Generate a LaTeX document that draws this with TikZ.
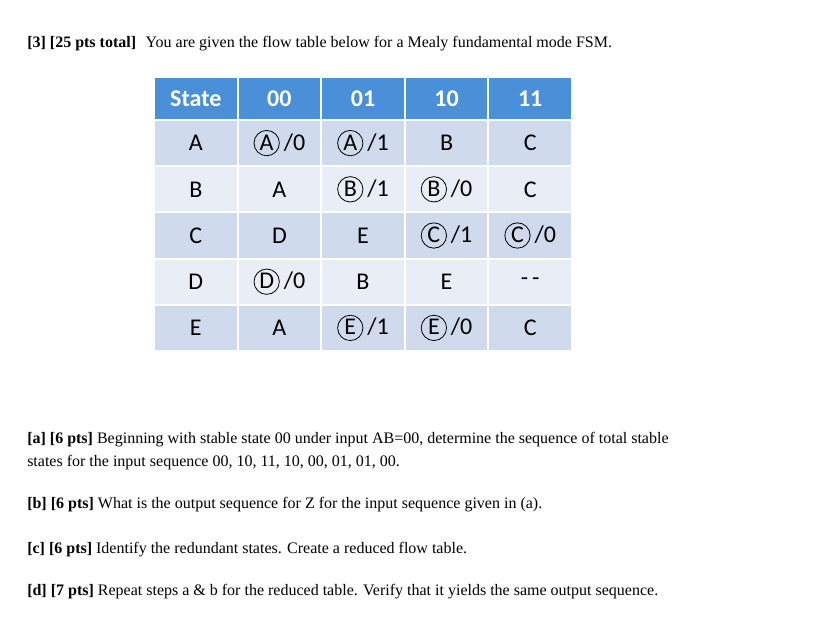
\documentclass[tikz,border=0pt]{standalone}
\usepackage{fontspec}
\setmainfont{Liberation Serif}
\newfontfamily\calfnt{Carlito}
\definecolor{hdr}{RGB}{74,144,217}
\definecolor{rowd}{RGB}{207,218,237}
\definecolor{rowl}{RGB}{232,237,246}
\begin{document}
\begin{tikzpicture}[x=0.75pt,y=-0.75pt,
  txt/.style={anchor=base west,inner sep=0,font=\fontsize{12}{14}\selectfont},
  cell/.style={inner sep=0,font=\calfnt\fontsize{18}{20}\selectfont},
  hcell/.style={inner sep=0,font=\calfnt\bfseries\fontsize{18}{20}\selectfont,text=white},
  ring/.style={draw,black,line width=0.6pt}]
\useasboundingbox (0,0) rectangle (821,629);
\fill[white] (0,0) rectangle (821,629);
\node[txt] (t) at (27,47) {\textbf{[3] [25 pts total]}\hspace{0.6em}You are given the flow table below for a Mealy fundamental mode FSM.};
% table
\foreach \c in {0,...,4}{
  \fill[hdr] ({155+83.6*\c},78) rectangle ({153+83.6*(\c+1)},119);
  \foreach \r/\col in {1/rowd,2/rowl,3/rowd,4/rowl,5/rowd}{
    \fill[\col] ({155+83.6*\c},{121+46.2*(\r-1)}) rectangle ({153+83.6*(\c+1)},{119+46.2*\r});
  }}
\foreach \t [count=\c from 0] in {State,00,01,10,11}{
  \node[hcell] (h\c) at ({154+83.6*(\c+0.5)},99) {\t};}
\def\row#1#2#3#4#5#6{%
 \foreach \t [count=\c from 0] in {#2,#3,#4,#5,#6}{
  \node[cell] (c#1\c) at ({154+83.6*(\c+0.5)},{120+46.2*(#1-0.5)}) {\t};}}
\newcommand\st[2]{\tikz[baseline=(L.base)]{\node[inner sep=0] (L) {#1};\draw[ring] (L.center)++(0,-0.5pt) circle (9.5pt);}\,#2}
\row{1}{A}{\st{A}{/0}}{\st{A}{/1}}{B}{C}
\row{2}{B}{A}{\st{B}{/1}}{\st{B}{/0}}{C}
\row{3}{C}{D}{E}{\st{C}{/1}}{\st{C}{/0}}
\row{4}{D}{\st{D}{/0}}{B}{E}{-\,-}
\row{5}{E}{A}{\st{E}{/1}}{\st{E}{/0}}{C}
\node[txt] (a1) at (27,443) {\textbf{[a] [6 pts]} Beginning with stable state 00 under input AB=00, determine the sequence of total stable};
\node[txt] (a2) at (27,466) {states for the input sequence 00, 10, 11, 10, 00, 01, 01, 00.};
\node[txt] (b) at (27,508) {\textbf{[b] [6 pts]} What is the output sequence for Z for the input sequence given in (a).};
\node[txt] (c) at (27,553) {\textbf{[c] [6 pts]} Identify the redundant states. Create a reduced flow table.};
\node[txt] (d) at (27,595) {\textbf{[d] [7 pts]} Repeat steps a \& b for the reduced table. Verify that it yields the same output sequence.};
\end{tikzpicture}
\end{document}
